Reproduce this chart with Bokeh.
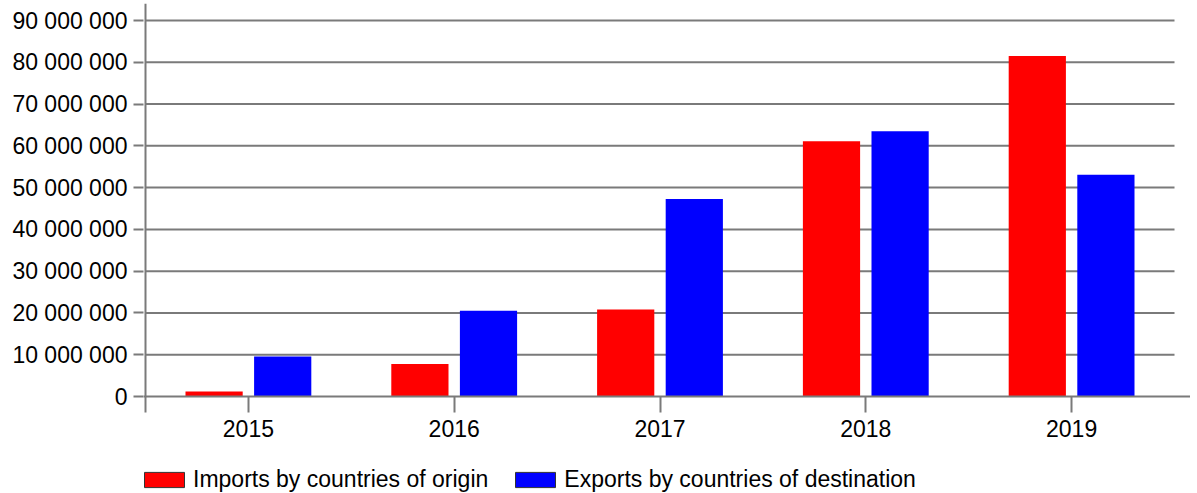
from bokeh.plotting import figure
from bokeh.models import (Range1d, FixedTicker, ColumnDataSource, Legend, LegendItem)
from bokeh.transform import dodge
from bokeh.embed import file_html
from bokeh.resources import INLINE

# ---- data ----
years = ["2015", "2016", "2017", "2018", "2019"]
imports = [1_200_000, 7_800_000, 20_800_000, 61_100_000, 81_500_000]
exports = [9_600_000, 20_500_000, 47_300_000, 63_500_000, 53_100_000]
y_ticks = [0, 10_000_000, 20_000_000, 30_000_000, 40_000_000, 50_000_000,
           60_000_000, 70_000_000, 80_000_000, 90_000_000]
y_tick_labels = ["0", "10 000 000", "20 000 000", "30 000 000", "40 000 000",
                 "50 000 000", "60 000 000", "70 000 000", "80 000 000", "90 000 000"]
series_names = ["Imports by countries of origin", "Exports by countries of destination"]
colors = ["#ff0000", "#0000ff"]

FONT = "Liberation Sans"
GRAY = "#7a7a7a"
FS = "23px"

n = len(years)
pos = [i + 0.5 for i in range(n)]
src = ColumnDataSource(dict(pos=pos, imports=imports, exports=exports))

# layout geometry (pixels)
W, H = 1190, 493
left, top = 143, 3
cat_px = 205.8
y0_px, ymax_px = 396, 20          # pixel rows of 0 and of the top tick
per_px = (y_ticks[-1] - y_ticks[0]) / (y0_px - ymax_px)
x_start = -(145 - left) / cat_px
x_end = x_start + (W - left) / cat_px
y_end = y_ticks[-1] + (ymax_px - top) * per_px
y_start = -(H - y0_px) * per_px

p = figure(width=W, height=H, output_backend="svg", toolbar_location=None,
           x_range=Range1d(x_start, x_end), y_range=Range1d(y_start, y_end),
           min_border_left=left, min_border_right=0, min_border_top=top,
           min_border_bottom=0)
p.outline_line_color = None
p.xgrid.grid_line_color = None
p.ygrid.grid_line_color = None

# gridlines (drawn under bars)
grid_y = y_ticks[1:]
p.segment(x0=[0] * len(grid_y), x1=[n] * len(grid_y), y0=grid_y, y1=grid_y,
          line_color=GRAY, line_width=2)
# y axis line (from zero up)
p.segment(x0=[0], x1=[0], y0=[0], y1=[y_end], line_color=GRAY, line_width=2)

r1 = p.vbar(x=dodge("pos", -1 / 6, range=p.x_range), top="imports", width=0.278,
            source=src, fill_color=colors[0], line_color=None)
r2 = p.vbar(x=dodge("pos", 1 / 6, range=p.x_range), top="exports", width=0.278,
            source=src, fill_color=colors[1], line_color=None)

# hidden twins of the bars, used only for the outlined legend swatches
l1 = p.vbar(x=dodge("pos", -1 / 6, range=p.x_range), top="imports", width=0.278,
            source=src, fill_color=colors[0], line_color="#333333", line_width=1,
            visible=False)
l2 = p.vbar(x=dodge("pos", 1 / 6, range=p.x_range), top="exports", width=0.278,
            source=src, fill_color=colors[1], line_color="#333333", line_width=1,
            visible=False)

# axes
p.yaxis.ticker = FixedTicker(ticks=y_ticks)
p.yaxis.major_label_overrides = {t: l for t, l in zip(y_ticks, y_tick_labels)}
p.xaxis.ticker = FixedTicker(ticks=[0] + pos)
xo = {0: ""}
xo.update({pp: y for pp, y in zip(pos, years)})
p.xaxis.major_label_overrides = xo
p.xaxis.fixed_location = 0

for ax in (p.xaxis, p.yaxis):
    ax.axis_line_color = GRAY
    ax.axis_line_width = 2
    ax.major_tick_line_color = GRAY
    ax.major_tick_line_width = 2
    ax.major_tick_in = 0
    ax.minor_tick_line_color = None
    ax.major_label_text_font = FONT
    ax.major_label_text_font_size = FS
    ax.major_label_text_color = "#000000"
p.yaxis.axis_line_color = None
p.yaxis.major_tick_out = 10
p.yaxis.major_label_standoff = 6
p.xaxis.major_tick_out = 16
p.xaxis.major_label_standoff = 7

legend = Legend(items=[LegendItem(label=series_names[0], renderers=[l1]),
                       LegendItem(label=series_names[1], renderers=[l2])],
                orientation="horizontal", location=(-4, 0),
                glyph_width=50, glyph_height=19, label_standoff=4, spacing=22,
                padding=0, margin=0, border_line_color=None,
                background_fill_alpha=0, inactive_fill_alpha=0,
                label_text_font=FONT, label_text_font_size=FS,
                label_text_color="#000000")
p.add_layout(legend, "center")

open("out.html", "w").write(file_html(p, INLINE))
